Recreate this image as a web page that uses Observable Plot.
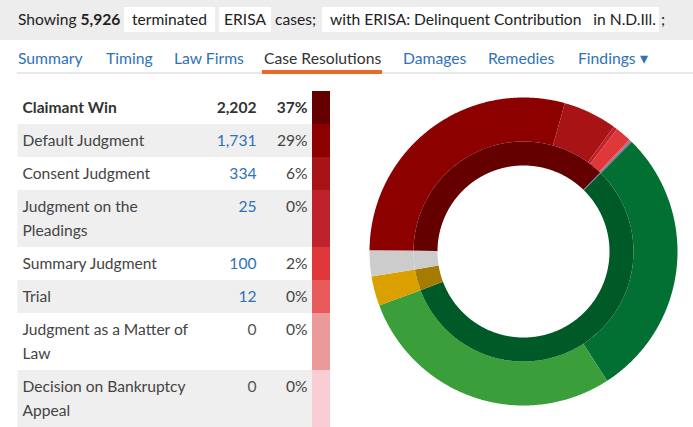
<!DOCTYPE html>
<html><head><meta charset="utf-8">
<script src="https://cdn.jsdelivr.net/npm/d3@7"></script>
<script src="https://cdn.jsdelivr.net/npm/@observablehq/plot@0.6"></script>
<style>
html,body{margin:0;padding:0;}
body{width:693px;height:427px;overflow:hidden;background:#fff;font-family:Lato,"Open Sans",sans-serif;position:relative;color:#333;}
#hdr{position:absolute;left:0;top:0;width:693px;height:40px;background:#ededed;font-size:15.6px;color:#222;}
#hdr span{position:absolute;top:7px;height:25px;line-height:25px;white-space:nowrap;}
#hdr .box{background:#fff;}
#tabs{position:absolute;left:17px;top:46px;right:0;height:26px;border-bottom:2px solid #e8e8e8;font-size:15.7px;}
#tabs span{position:absolute;top:0;color:#2f72b8;line-height:24px;white-space:nowrap;}
#tabs span.act{color:#333;}
#uline{position:absolute;left:262px;top:70px;width:120px;height:4px;background:#e8692a;}
#tbl{position:absolute;left:0;top:91px;}
#donut{position:absolute;left:358px;top:86px;}
</style></head><body>
<div id="hdr">
<span style="left:18px">Showing <b>5,926</b></span>
<span class="box" style="left:124px;width:91px;text-align:center">terminated</span>
<span class="box" style="left:219px;width:52px;text-align:center">ERISA</span>
<span style="left:275px">cases;</span>
<span class="box" style="left:322px;width:337px;padding-left:8px;box-sizing:border-box">with ERISA: Delinquent Contribution&nbsp;&nbsp; in N.D.Ill.</span>
<span style="left:661px">;</span>
</div>
<div id="tabs">
<span style="left:1px">Summary</span><span style="left:89px">Timing</span><span style="left:157px">Law Firms</span><span class="act" style="left:247px">Case Resolutions</span><span style="left:386px">Damages</span><span style="left:471px">Remedies</span><span style="left:561px">Findings &#9662;</span>
</div>
<div id="uline"></div>
<div id="tbl"></div>
<div id="donut"></div>
<script>
// ---- table data ----
const outcomes = ["Claimant Win","Default Judgment","Consent Judgment","Judgment on the Pleadings","Summary Judgment","Trial","Judgment as a Matter of Law","Decision on Bankruptcy Appeal"];
const counts = [2202,1731,334,25,100,12,0,0];
const percents = ["37%","29%","6%","0%","2%","0%","0%","0%"];
const barColors = ["#640000","#8c0000","#a81416","#c0222d","#df383b","#e85a5a","#eb9a9b","#f9cdd3"];

// ---- donut data ----
const innerNames = ["Claimant Win","Blue sliver","Green group","Gold group","Gray group"];
const innerCounts = [2202,8,3371,184,161];
const innerColors = ["#640000","#4a5f9e","#005a28","#a67c00","#cccccc"];
const outerNames = ["Default Judgment","Consent Judgment","Judgment on the Pleadings","Summary Judgment","Trial","Judgment as a Matter of Law","Decision on Bankruptcy Appeal","Blue sliver","Green A","Green B","Gold","Gray"];
const outerCounts = [1731,334,25,100,12,0,0,8,1686,1685,184,161];
const outerColors = ["#8c0000","#a81416","#c0222d","#df383b","#e85a5a","#eb9a9b","#f9cdd3","#3b80c6","#027033","#3a9e3a","#daa000","#cccccc"];

// ---- table layout ----
const FS = 15.6;
const FONT = FS + "px Lato";
const ctx = document.createElement("canvas").getContext("2d");
function wrap(text, bold, maxW){
  ctx.font = (bold ? "bold " : "") + FONT;
  const words = text.split(" "); const lines = []; let cur = "";
  for (const w of words){ const t = cur ? cur + " " + w : w; if (ctx.measureText(t).width > maxW && cur){ lines.push(cur); cur = w; } else cur = t; }
  lines.push(cur); return lines;
}
const LINE = 24, ROW = 33;
let acc = 0;
const rows = outcomes.map((name,i) => {
  const lines = wrap(name, i===0, 180);
  const h = ROW + LINE*(lines.length-1);
  const r = {i, name, lines, y1: acc, y2: acc+h, y0: acc+16.5, count: d3.format(",")(counts[i]), pct: percents[i], bar: barColors[i],
    countColor: i===0 ? "#333" : counts[i] > 0 ? "#2f72b8" : "#555"};
  acc += h; return r;
});
const TH = acc;
const labelLines = rows.flatMap(r => r.lines.map((t,k) => ({t, y: r.y0 + k*LINE, bold: r.i===0})));

const tbl = Plot.plot({
  width: 335, height: TH, margin: 0,
  x: {domain:[0,335], range:[0,335], axis:null},
  y: {domain:[0,TH], range:[0,TH], axis:null},
  color: {type:"identity"},
  style: {fontFamily:"Lato, 'Open Sans', sans-serif", fontSize: FS + "px", background:"transparent"},
  marks: [
    Plot.rect(rows.filter(r => r.i % 2 === 1), {x1: 17.5, x2: 312, y1: "y1", y2: "y2", fill: "#efefef"}),
    Plot.rect(rows, {x1: 312, x2: 330, y1: "y1", y2: "y2", fill: "bar"}),
    Plot.text(labelLines.filter(d => !d.bold), {x: 22, y: "y", text: "t", textAnchor: "start", fontSize: FS, fill: "#444"}),
    Plot.text(labelLines.filter(d => d.bold), {x: 22, y: "y", text: "t", textAnchor: "start", fontSize: FS, fontWeight: "bold", fill: "#333"}),
    Plot.text(rows.filter(r => r.i > 0), {x: 256, y: "y0", text: "count", textAnchor: "end", fontSize: FS, fill: "countColor"}),
    Plot.text(rows.filter(r => r.i === 0), {x: 256, y: "y0", text: "count", textAnchor: "end", fontSize: FS, fontWeight: "bold", fill: "#333"}),
    Plot.text(rows.filter(r => r.i > 0), {x: 307, y: "y0", text: "pct", textAnchor: "end", fontSize: FS, fill: "#444"}),
    Plot.text(rows.filter(r => r.i === 0), {x: 307, y: "y0", text: "pct", textAnchor: "end", fontSize: FS, fontWeight: "bold", fill: "#333"})
  ]
});
document.getElementById("tbl").append(tbl);

// ---- donut geometry ----
const START = -89.6 * Math.PI/180;
const R_OUT = 1, R_MID = 110/154, R_IN = 86/154;
function ring(names, values, colors, r0, r1, tag){
  const pie = d3.pie().sort(null).value(d => d).startAngle(START).endAngle(START + 2*Math.PI)(values);
  const pts = [];
  pie.forEach((a, i) => {
    if (values[i] <= 0) return;
    const n = Math.max(2, Math.ceil((a.endAngle - a.startAngle) / (0.4*Math.PI/180)));
    const id = tag + i;
    for (let k = 0; k <= n; k++){ const t = a.startAngle + (a.endAngle - a.startAngle)*k/n; pts.push({id, name: names[i], color: colors[i], x: r1*Math.sin(t), y: r1*Math.cos(t)}); }
    for (let k = n; k >= 0; k--){ const t = a.startAngle + (a.endAngle - a.startAngle)*k/n; pts.push({id, name: names[i], color: colors[i], x: r0*Math.sin(t), y: r0*Math.cos(t)}); }
  });
  return pts;
}
const innerPts = ring(innerNames, innerCounts, innerColors, R_IN, R_MID, "in");
const outerPts = ring(outerNames, outerCounts, outerColors, R_MID, R_OUT, "out");

const donut = Plot.plot({
  width: 330, height: 330, margin: 11,
  x: {domain:[-1,1], axis:null},
  y: {domain:[-1,1], axis:null},
  color: {type:"identity"},
  style: {background:"transparent"},
  marks: [
    Plot.line(outerPts, {x:"x", y:"y", z:"id", fill:"color", stroke:"none", curve:"linear"}),
    Plot.line(innerPts, {x:"x", y:"y", z:"id", fill:"color", stroke:"none", curve:"linear"})
  ]
});
document.getElementById("donut").append(donut);
</script>
</body></html>
